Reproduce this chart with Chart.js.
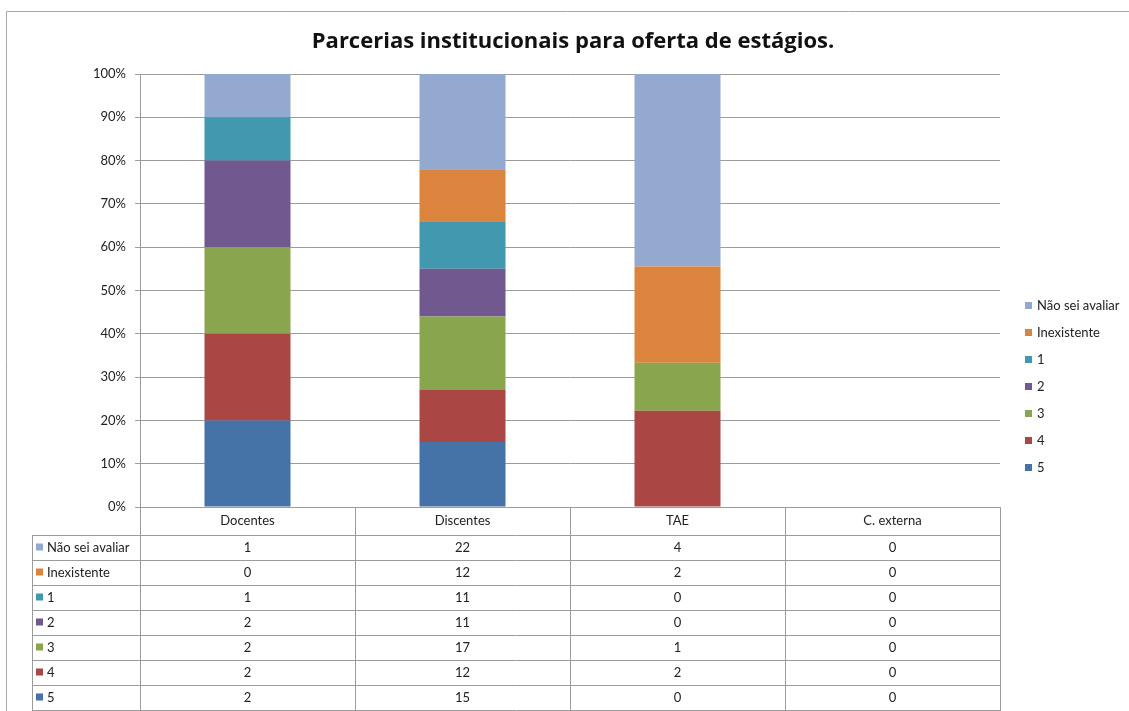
<!DOCTYPE html>
<html>
<head>
<meta charset="utf-8">
<script src="https://cdn.jsdelivr.net/npm/chart.js@4.4.1/dist/chart.umd.min.js"></script>
<style>
  html, body { margin: 0; padding: 0; background: #fff; }
  #wrap { width: 1129px; height: 711px; }
</style>
</head>
<body>
<div id="wrap"><canvas id="chart"></canvas></div>
<script>
// categories along the x axis (also the table header)
const categories = ['Docentes', 'Discentes', 'TAE', 'C. externa'];

// raw answer counts per category, bottom of the stack first
const seriesNames = ['5', '4', '3', '2', '1', 'Inexistente', 'Não sei avaliar'];
const count5 = [2, 15, 0, 0];
const count4 = [2, 12, 2, 0];
const count3 = [2, 17, 1, 0];
const count2 = [2, 11, 0, 0];
const count1 = [1, 11, 0, 0];
const countInexistente = [0, 12, 2, 0];
const countNaoSei = [1, 22, 4, 0];
const seriesColors = ['#4572A7', '#AA4643', '#89A54E', '#71588F', '#4198AF', '#DB843D', '#93A9CF'];

const TITLE = 'Parcerias institucionais para oferta de estágios.';
const FONT = 'Lato, "Open Sans", sans-serif';
const LINE = '#9c9c9c';

const counts = [count5, count4, count3, count2, count1, countInexistente, countNaoSei];
const totals = categories.map((_, i) => counts.reduce((s, arr) => s + arr[i], 0));

const datasets = counts.map((arr, k) => ({
    label: seriesNames[k],
    data: arr.map((v, i) => totals[i] ? v / totals[i] * 100 : 0),
    backgroundColor: seriesColors[k],
    borderWidth: 0,
    categoryPercentage: 1,
    barPercentage: 0.4
}));

// outer frame, title, data table and legend drawn around the plot
const extras = {
    id: 'extras',
    beforeDraw(chart) {
        const ctx = chart.ctx;
        ctx.save();
        ctx.strokeStyle = '#a8a8a8';
        ctx.lineWidth = 1;
        ctx.beginPath();
        ctx.moveTo(6.5, 711);
        ctx.lineTo(6.5, 11.5);
        ctx.lineTo(1129, 11.5);
        ctx.stroke();

        ctx.fillStyle = '#111';
        ctx.font = 'bold 22px "Open Sans", sans-serif';
        ctx.textAlign = 'center';
        ctx.textBaseline = 'alphabetic';
        ctx.fillText(TITLE, 573, 48);
        ctx.restore();
    },
    afterDraw(chart) {
        const ctx = chart.ctx;
        const area = chart.chartArea;
        const x = chart.scales.x;
        const colW = (area.right - area.left) / categories.length;
        const headTop = area.bottom;
        const rowTop = 535;
        const rowH = 25;
        const nRows = seriesNames.length;
        const tableLeft = 32;
        const bottom = rowTop + nRows * rowH;

        ctx.save();
        ctx.strokeStyle = LINE;
        ctx.lineWidth = 1;
        ctx.beginPath();
        // vertical lines of the value columns
        for (let i = 0; i <= categories.length; i++) {
            const px = Math.round(area.left + i * colW) + 0.5;
            ctx.moveTo(px, headTop);
            ctx.lineTo(px, bottom);
        }
        ctx.moveTo(tableLeft + 0.5, rowTop);
        ctx.lineTo(tableLeft + 0.5, bottom);
        for (let r = 0; r <= nRows; r++) {
            const py = rowTop + r * rowH + 0.5;
            ctx.moveTo(tableLeft, py);
            ctx.lineTo(Math.round(area.right) + 1, py);
        }
        ctx.stroke();

        ctx.fillStyle = '#222';
        ctx.font = '13px ' + FONT;
        ctx.textAlign = 'center';
        ctx.textBaseline = 'middle';
        categories.forEach((c, i) => {
            ctx.fillText(c, x.getPixelForValue(i), (headTop + rowTop) / 2);
        });

        // rows: top row is the last series
        for (let r = 0; r < nRows; r++) {
            const k = nRows - 1 - r;
            const cy = rowTop + r * rowH + rowH / 2;
            ctx.fillStyle = seriesColors[k];
            ctx.fillRect(tableLeft + 4, cy - 4, 7, 7);
            ctx.fillStyle = '#222';
            ctx.textAlign = 'left';
            ctx.fillText(seriesNames[k], tableLeft + 15, cy);
            ctx.textAlign = 'center';
            counts[k].forEach((v, i) => {
                ctx.fillText(String(v), x.getPixelForValue(i), cy);
            });
        }

        // legend on the right
        const legX = 1025;
        const legTop = 306;
        const legStep = 27;
        ctx.textAlign = 'left';
        for (let r = 0; r < nRows; r++) {
            const k = nRows - 1 - r;
            const cy = legTop + r * legStep;
            ctx.fillStyle = seriesColors[k];
            ctx.fillRect(legX, cy - 4, 7, 7);
            ctx.fillStyle = '#222';
            ctx.fillText(seriesNames[k], legX + 12, cy);
        }
        ctx.restore();
    }
};

new Chart(document.getElementById('chart'), {
    type: 'bar',
    data: { labels: categories, datasets: datasets },
    plugins: [extras],
    options: {
        responsive: true,
        maintainAspectRatio: false,
        animation: false,
        layout: { padding: { left: 0, right: 129, top: 74, bottom: 204 } },
        plugins: {
            legend: { display: false },
            tooltip: { enabled: false }
        },
        scales: {
            x: {
                stacked: true,
                display: false
            },
            y: {
                stacked: true,
                min: 0,
                max: 100,
                afterFit(scale) { scale.width = 140; },
                ticks: {
                    stepSize: 10,
                    padding: 9,
                    color: '#222',
                    font: { family: FONT, size: 13 },
                    callback: v => v + '%'
                },
                grid: { color: LINE, tickLength: 5 },
                border: { color: LINE }
            }
        }
    }
});
</script>
</body>
</html>
